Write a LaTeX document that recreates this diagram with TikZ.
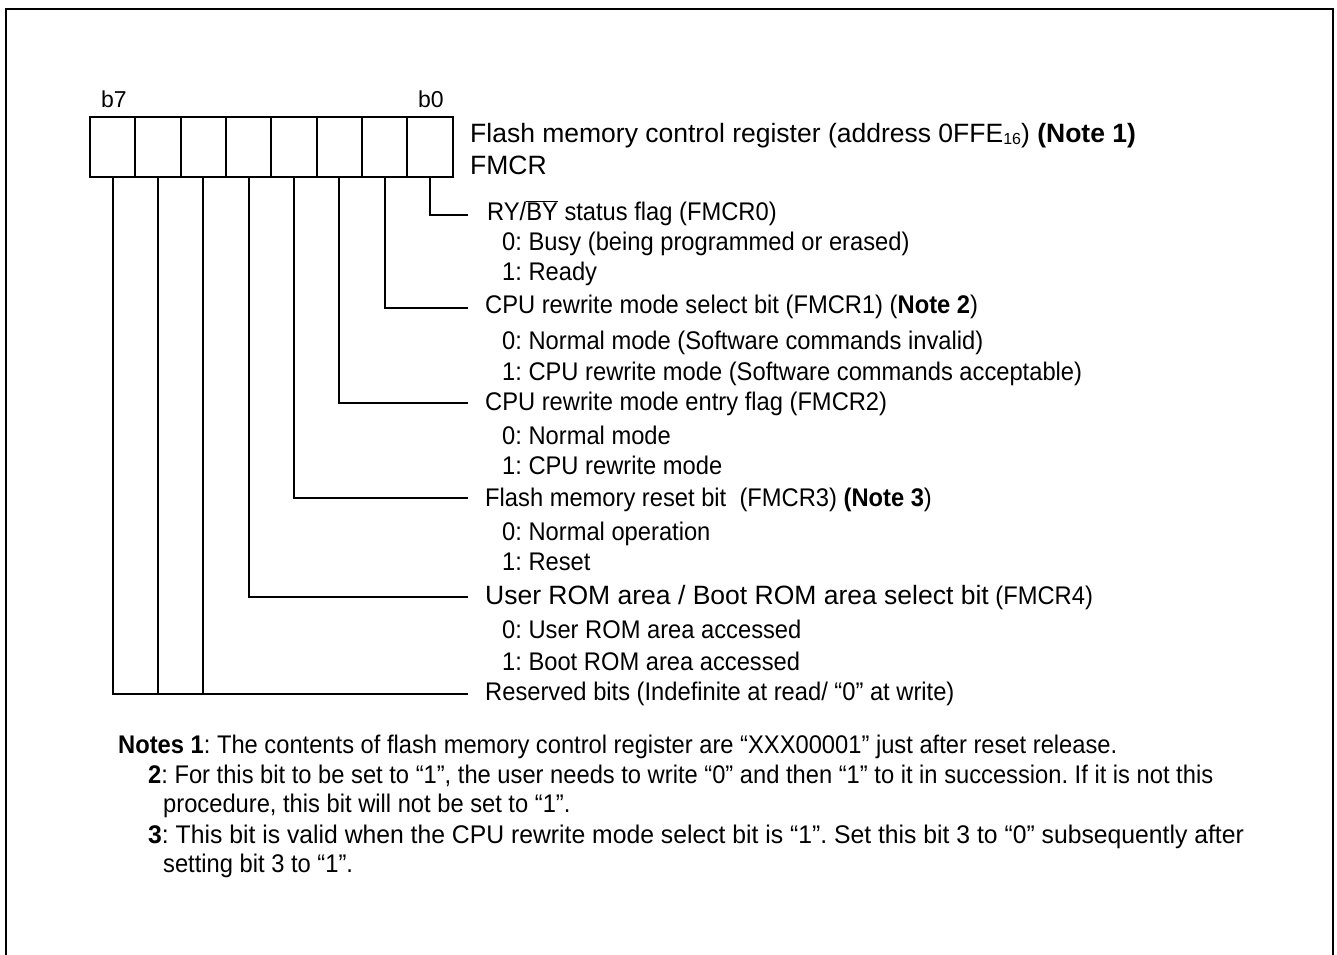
\documentclass[tikz,border=0pt]{standalone}
\usepackage{fontspec}
\setmainfont{Liberation Sans}
\newfontfamily\narrowf[FakeStretch=0.93]{Liberation Sans}
\newfontfamily\widerf[FakeStretch=0.97]{Liberation Sans}
\frenchspacing
\begin{document}
\begin{tikzpicture}[x=1pt,y=-1pt,
  cell/.style={draw,line width=2pt,minimum width=45.33pt,minimum height=60pt,inner sep=0,outer sep=0},
  conn/.style={line width=2pt},
  big/.style={anchor=base west,inner sep=0,font=\fontsize{26.5}{30}\selectfont},
  txt/.style={anchor=base west,inner sep=0,font=\narrowf\fontsize{25.5}{30}\selectfont},
  lbl/.style={anchor=base west,inner sep=0,font=\fontsize{23}{26}\selectfont}]
\useasboundingbox (0,0) rectangle (1337,954);
\draw[line width=2.7pt] (6,960) -- (6,9) -- (1333,9) -- (1333,960);
% register cells b7 (left) .. b0 (right)
\foreach \i/\n in {0/7,1/6,2/5,3/4,4/3,5/2,6/1,7/0}{
  \node[cell] (c\n) at ({90+45.33*\i+22.665},147) {};
}
\node[lbl] (lb7) at (101,107) {b7};
\node[lbl] (lb0) at (418,107) {b0};
\node[big] (title) at (470,142) {Flash memory control register (address 0FFE{\fontsize{16}{16}\selectfont\raisebox{-2pt}{16}}) \textbf{(Note 1)}};
\node[big] (fmcr) at (470,174) {FMCR};
% end points of connectors
\coordinate (e0) at (468,215);
\coordinate (e1) at (468,308);
\coordinate (e2) at (468,403);
\coordinate (e3) at (468,498);
\coordinate (e4) at (468,597);
\coordinate (e5) at (468,694);
\draw[conn] (c0.south) |- (e0);
\draw[conn] (c1.south) |- (e1);
\draw[conn] (c2.south) |- (e2);
\draw[conn] (c3.south) |- (e3);
\draw[conn] (c4.south) |- (e4);
\draw[conn] (c7.south) |- (e5);
\draw[conn] (c6.south) -- (c6.south |- e5);
\draw[conn] (c5.south) -- (c5.south |- e5);
% descriptions
\node[txt] (t0) at (487,220) {RY/$\overline{\mbox{BY}}$ status flag (FMCR0)};
\node[txt] (t0a) at (502,250) {0: Busy (being programmed or erased)};
\node[txt] (t0b) at (502,280) {1: Ready};
\node[txt] (t1) at (485,313) {CPU rewrite mode select bit (FMCR1) (\textbf{Note 2})};
\node[txt] (t1a) at (502,349) {0: Normal mode (Software commands invalid)};
\node[txt] (t1b) at (502,380) {1: CPU rewrite mode (Software commands acceptable)};
\node[txt] (t2) at (485,410) {CPU rewrite mode entry flag (FMCR2)};
\node[txt] (t2a) at (502,444) {0: Normal mode};
\node[txt] (t2b) at (502,474) {1: CPU rewrite mode};
\node[txt] (t3) at (485,506) {Flash memory reset bit\ \ (FMCR3) \textbf{(Note 3})};
\node[txt] (t3a) at (502,540) {0: Normal operation};
\node[txt] (t3b) at (502,570) {1: Reset};
\node[big] (t4) at (485,604) {User ROM area / Boot ROM area select bit\narrowf\fontsize{25.5}{30}\selectfont{} (FMCR4)};
\node[txt] (t4a) at (502,638) {0: User ROM area accessed};
\node[txt] (t4b) at (502,670) {1: Boot ROM area accessed};
\node[txt] (t5) at (485,700) {Reserved bits (Indefinite at read/ “0” at write)};
% notes
\node[txt] (n1) at (118,753) {\textbf{Notes 1}: The contents of flash memory control register are “XXX00001” just after reset release.};
\node[txt] (n2) at (148,783) {\textbf{2}: For this bit to be set to “1”, the user needs to write “0” and then “1” to it in succession. If it is not this};
\node[txt] (n2b) at (163,812) {procedure, this bit will not be set to “1”.};
\node[txt,font=\widerf\fontsize{25.5}{30}\selectfont] (n3) at (148,843) {\textbf{3}: This bit is valid when the CPU rewrite mode select bit is “1”. Set this bit 3 to “0” subsequently after};
\node[txt] (n3b) at (163,872) {setting bit 3 to “1”.};
\end{tikzpicture}
\end{document}
